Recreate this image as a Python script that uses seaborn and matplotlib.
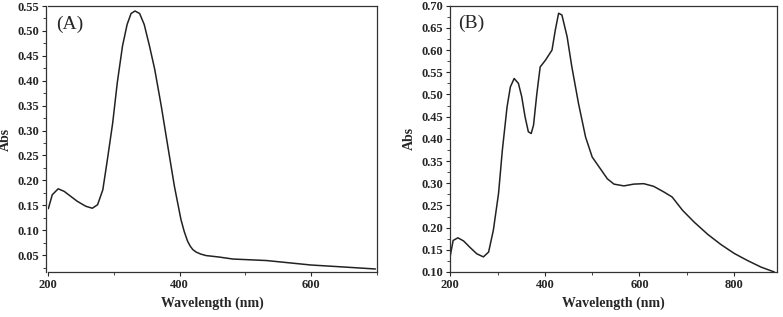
import matplotlib
matplotlib.use("Agg")
import matplotlib.pyplot as plt
import seaborn as sns
import pandas as pd
from matplotlib.ticker import MultipleLocator, FormatStrFormatter

# spectrum A
wl_a = [200, 206, 215, 224, 234, 244, 257, 267, 275, 283, 290, 298, 305, 313, 320, 326,
        332, 339, 346, 354, 362, 372, 382, 392, 402, 407, 412, 416, 420, 425, 432, 440,
        460, 481, 532, 600, 650, 698]
abs_a = [0.143, 0.171, 0.183, 0.178, 0.168, 0.158, 0.148, 0.144, 0.151, 0.181, 0.242,
         0.315, 0.396, 0.470, 0.513, 0.535, 0.540, 0.535, 0.513, 0.470, 0.423, 0.349,
         0.268, 0.188, 0.121, 0.097, 0.078, 0.068, 0.061, 0.056, 0.052, 0.049,
         0.046, 0.042, 0.039, 0.030, 0.026, 0.022]

# spectrum B
wl_b = [200, 206, 216, 228, 242, 256, 270, 281, 291, 302, 310, 320, 327, 335, 344, 351,
        358, 365, 371, 376, 383, 390, 401, 415, 422, 429, 436, 447, 457, 471, 486, 500,
        517, 532, 546, 567, 588, 609, 630, 652, 669, 680, 691, 715, 744, 772, 800, 828,
        857, 885]
abs_b = [0.137, 0.171, 0.177, 0.170, 0.155, 0.141, 0.134, 0.145, 0.194, 0.277, 0.374,
         0.472, 0.517, 0.536, 0.525, 0.495, 0.450, 0.416, 0.412, 0.431, 0.502, 0.562,
         0.577, 0.600, 0.645, 0.683, 0.679, 0.630, 0.562, 0.480, 0.404, 0.359,
         0.333, 0.310, 0.298, 0.294, 0.298, 0.299, 0.293, 0.280, 0.269, 0.254, 0.239,
         0.213, 0.185, 0.162, 0.142, 0.126, 0.111, 0.100]

df_a = pd.DataFrame({"Wavelength": wl_a, "Abs": abs_a})
df_b = pd.DataFrame({"Wavelength": wl_b, "Abs": abs_b})

sns.set_style("ticks")
plt.rcParams["font.family"] = ["Liberation Serif", "DejaVu Serif"]
plt.rcParams["font.weight"] = "bold"

fig = plt.figure(figsize=(7.83, 3.17), dpi=100)
ax_a = fig.add_axes([0.0617, 0.142, 0.4194, 0.839])
ax_b = fig.add_axes([0.5751, 0.142, 0.4168, 0.840])


def style_panel(ax, df, xlim, ylim, letter):
    sns.lineplot(data=df, x="Wavelength", y="Abs", ax=ax, color="#222222",
                 linewidth=1.1, estimator=None)
    ax.set_xlim(*xlim)
    ax.set_ylim(*ylim)
    ax.xaxis.set_major_locator(MultipleLocator(200))
    ax.xaxis.set_minor_locator(MultipleLocator(100))
    ax.yaxis.set_major_locator(MultipleLocator(0.05))
    ax.yaxis.set_minor_locator(MultipleLocator(0.025))
    ax.yaxis.set_major_formatter(FormatStrFormatter("%.2f"))
    ax.tick_params(which="major", direction="out", length=3, width=0.8,
                   labelsize=9, pad=2)
    ax.tick_params(which="minor", direction="out", length=2, width=0.6)
    for lab in ax.get_xticklabels() + ax.get_yticklabels():
        lab.set_fontweight("bold")
    for sp in ax.spines.values():
        sp.set_visible(True)
        sp.set_linewidth(0.9)
        sp.set_color("#333333")
    ax.set_xlabel("Wavelength (nm)", fontsize=10, fontweight="bold", labelpad=4)
    ax.set_ylabel("Abs", fontsize=10, fontweight="bold", labelpad=4)
    ax.text(0.025, 0.965, letter, transform=ax.transAxes, ha="left", va="top",
            fontsize=14, fontweight="normal")


style_panel(ax_a, df_a, (200, 700), (0.016, 0.55), "(A)")
style_panel(ax_b, df_b, (200, 890), (0.10, 0.70), "(B)")

# panel A has its left axis set slightly apart from the bottom one
ax_a.spines["left"].set_position(("outward", 1.5))

fig.savefig("out.png", dpi=100)
